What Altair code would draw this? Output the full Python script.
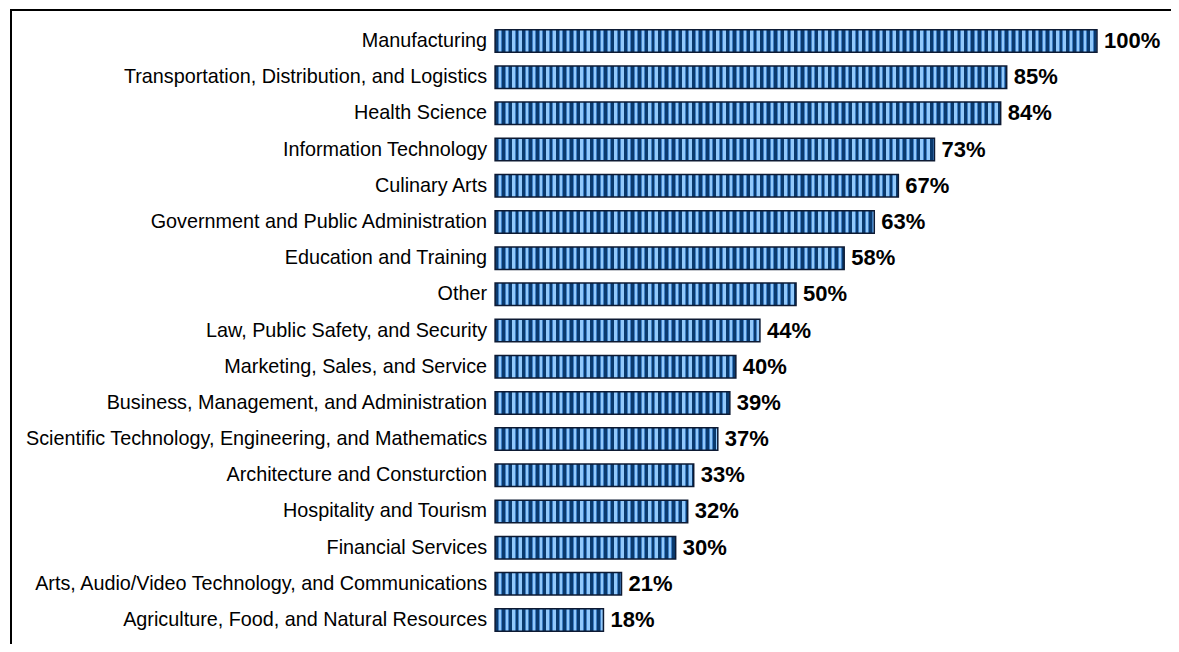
import altair as alt
import pandas as pd

categories = [
    "Manufacturing",
    "Transportation, Distribution, and Logistics",
    "Health Science",
    "Information Technology",
    "Culinary Arts",
    "Government and Public Administration",
    "Education and Training",
    "Other",
    "Law, Public Safety, and Security",
    "Marketing, Sales, and Service",
    "Business, Management, and Administration",
    "Scientific Technology, Engineering, and Mathematics",
    "Architecture and Consturction",
    "Hospitality and Tourism",
    "Financial Services",
    "Arts, Audio/Video Technology, and Communications",
    "Agriculture, Food, and Natural Resources",
]
values = [100, 85, 84, 73, 67, 63, 58, 50, 44, 40, 39, 37, 33, 32, 30, 21, 18]
labels = [f"{v}%" for v in values]

df = pd.DataFrame({"cat": categories, "val": values, "lab": labels})

W, H = 1161, 635
X_DOMAIN = [-80.6, 112.3]
PX_PER_UNIT = W / (X_DOMAIN[1] - X_DOMAIN[0])

DARK = "#0a3a6e"
MID = "#3f7fc4"
LIGHT = "#92c9fb"

def stripe_gradient(v):
    L = v * PX_PER_UNIT
    stops = []
    pos = 0.0
    segs = [(2.8, DARK), (0.8, MID), (2.4, LIGHT), (0.8, MID)]
    while pos < L:
        for seglen, col in segs:
            a = min(pos / L, 1.0)
            b = min((pos + seglen) / L, 1.0)
            stops.append({"offset": round(a, 5), "color": col})
            stops.append({"offset": round(b, 5), "color": col})
            pos += seglen
            if pos >= L:
                break
    return alt.LinearGradient(gradient="linear", stops=stops, x1=0, x2=1, y1=0, y2=0)

xscale = alt.Scale(domain=X_DOMAIN, zero=False, nice=False)
yscale = alt.Scale(domain=categories, paddingInner=0.378, paddingOuter=0.462, align=0.62)

base = alt.Chart(df)

bars = []
for c, v in zip(categories, values):
    bars.append(
        base.transform_filter(alt.datum.cat == c)
        .transform_calculate(zero="0")
        .mark_bar(color=stripe_gradient(v), stroke="#0d1a33", strokeWidth=1.5)
        .encode(
            x=alt.X("zero:Q", scale=xscale, axis=None),
            x2="val:Q",
            y=alt.Y("cat:N", scale=yscale, axis=None, sort=categories),
        )
    )

cat_text = base.transform_calculate(zero="0").mark_text(
    align="right", baseline="middle", dx=-8, fontSize=19.8,
    font="Liberation Sans, Arial", color="#000000",
).encode(
    x=alt.X("zero:Q", scale=xscale, axis=None),
    y=alt.Y("cat:N", scale=yscale, axis=None, sort=categories),
    text="cat:N",
)

pct_text = base.mark_text(
    align="left", baseline="middle", dx=7, fontSize=22, fontWeight="bold",
    font="Liberation Sans, Arial", color="#000000",
).encode(
    x=alt.X("val:Q", scale=xscale, axis=None),
    y=alt.Y("cat:N", scale=yscale, axis=None, sort=categories),
    text="lab:N",
)

frame_left = alt.Chart(df).mark_rule(color="#000000", strokeWidth=2).encode(
    x=alt.value(1), y=alt.value(0), y2=alt.value(H)
)
frame_top = alt.Chart(df).mark_rule(color="#000000", strokeWidth=2).encode(
    x=alt.value(0), x2=alt.value(W), y=alt.value(1)
)

chart = alt.layer(*bars, cat_text, pct_text, frame_left, frame_top).properties(
    width=W, height=H,
    padding={"left": 2, "top": 1, "right": 0, "bottom": 0},
    autosize=alt.AutoSizeParams(type="none"),
).configure_view(stroke=None).configure(background="#ffffff")

chart.save("out.html", embed_options={"renderer": "svg", "actions": False})
